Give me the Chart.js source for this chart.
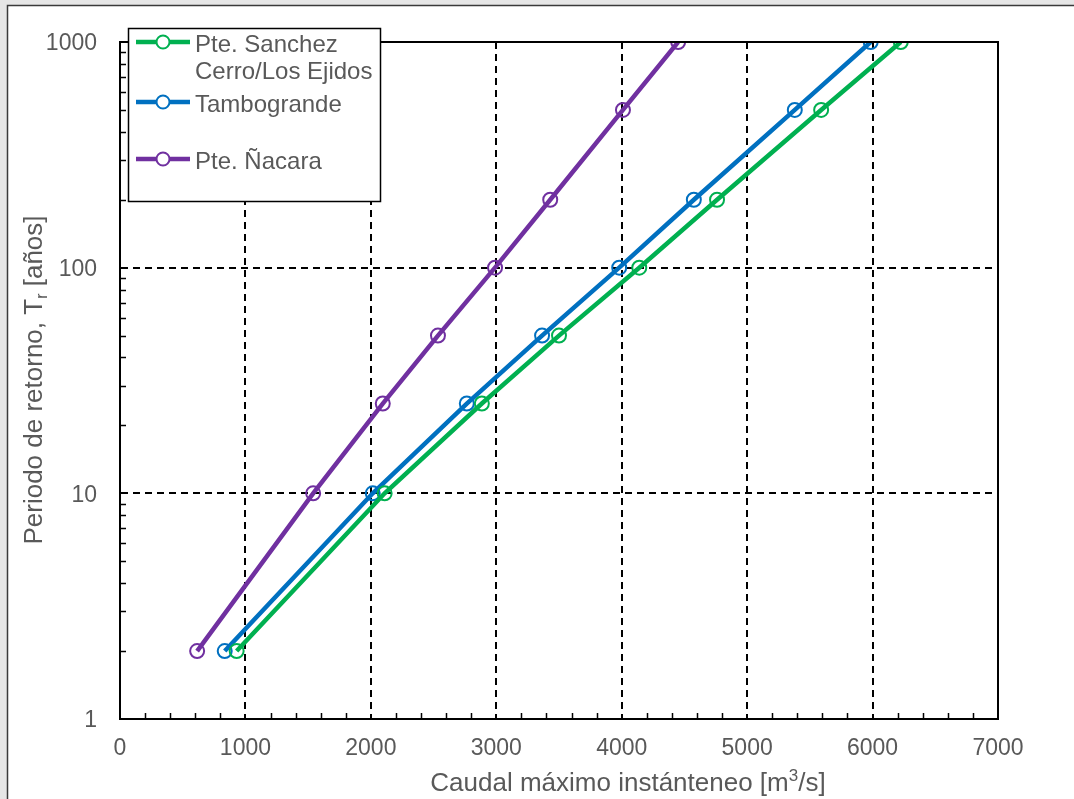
<!DOCTYPE html>
<html>
<head>
<meta charset="utf-8">
<script src="https://cdn.jsdelivr.net/npm/chart.js@4.4.1/dist/chart.umd.min.js"></script>
<style>
    html, body { margin: 0; padding: 0; background: #ffffff; }
    #wrap { width: 1074px; height: 799px; position: relative; }
</style>
</head>
<body>
<div id="wrap"><canvas id="floodChart" width="1074" height="799"></canvas></div>
<script>
// return periods (years) and peak discharge (m3/s)
const returnPeriods = [2, 10, 25, 50, 100, 200, 500, 1000];
const sanchezCerro = [930, 2110, 2885, 3500, 4140, 4760, 5590, 6225];
const tambogrande = [835, 2015, 2765, 3365, 3980, 4575, 5380, 5985];
const nacara = [615, 1540, 2095, 2535, 2990, 3430, 4010, 4450];

const xTicks = [0, 1000, 2000, 3000, 4000, 5000, 6000, 7000];
const yTicks = [1, 10, 100, 1000];

const seriesNames = [['Pte. Sanchez', 'Cerro/Los Ejidos'], ['Tambogrande'], ['Pte. Ñacara']];
const seriesColors = ['#00b050', '#0070c0', '#7030a0'];

const FONT = '"Liberation Sans", Arial, sans-serif';
const GREY_TEXT = '#595959';

function toPoints(values) {
    return values.map((q, i) => ({ x: q, y: returnPeriods[i] }));
}

const allSeries = [sanchezCerro, tambogrande, nacara];

const datasets = allSeries.map((vals, i) => ({
    label: seriesNames[i].join(' '),
    data: toPoints(vals),
    borderColor: seriesColors[i],
    borderWidth: 4.5,
    pointRadius: 7,
    pointHoverRadius: 7,
    pointBorderWidth: 2,
    pointBorderColor: seriesColors[i],
    pointBackgroundColor: 'rgba(0,0,0,0)',
    tension: 0
}));

// frame, box, minor ticks, legend and axis titles
const extras = {
    id: 'extras',
    beforeDraw(chart) {
        const ctx = chart.ctx;
        ctx.save();
        ctx.fillStyle = '#e6e6e6';
        ctx.fillRect(0, 0, 1074, 5);
        ctx.fillRect(0, 0, 7, 799);
        ctx.strokeStyle = '#3a3a3a';
        ctx.lineWidth = 1.5;
        ctx.beginPath();
        ctx.moveTo(7.5, 799);
        ctx.lineTo(7.5, 5.5);
        ctx.lineTo(1074, 5.5);
        ctx.stroke();
        ctx.restore();
    },
    afterDraw(chart) {
        const ctx = chart.ctx;
        const area = chart.chartArea;
        const xs = chart.scales.x;
        const ys = chart.scales.y;
        ctx.save();

        // plot box
        ctx.strokeStyle = '#000';
        ctx.lineWidth = 2;
        ctx.setLineDash([]);
        ctx.strokeRect(area.left, area.top, area.right - area.left, area.bottom - area.top);

        // minor ticks, pointing inward
        ctx.lineWidth = 1.5;
        ctx.beginPath();
        for (let v = 200; v < 7000; v += 200) {
            if (v % 1000 === 0) continue;
            const px = Math.round(xs.getPixelForValue(v)) + 0.5;
            ctx.moveTo(px, area.bottom);
            ctx.lineTo(px, area.bottom - 6);
        }
        for (let d = 1; d < 1000; d *= 10) {
            for (let k = 2; k <= 9; k++) {
                const py = Math.round(ys.getPixelForValue(k * d)) + 0.5;
                ctx.moveTo(area.left, py);
                ctx.lineTo(area.left + 6, py);
            }
        }
        ctx.stroke();

        // legend box
        const bx = 128, by = 28, bw = 252, bh = 173;
        ctx.fillStyle = '#ffffff';
        ctx.fillRect(bx, by, bw, bh);
        ctx.strokeStyle = '#000';
        ctx.lineWidth = 1.5;
        ctx.strokeRect(bx + 0.5, by + 0.5, bw, bh);

        const rowY = [42, 102, 159];
        ctx.font = '24px ' + FONT;
        ctx.textBaseline = 'middle';
        ctx.textAlign = 'left';
        seriesNames.forEach((lines, i) => {
            const y = rowY[i];
            ctx.strokeStyle = seriesColors[i];
            ctx.lineWidth = 4.5;
            ctx.beginPath();
            ctx.moveTo(136, y);
            ctx.lineTo(190, y);
            ctx.stroke();
            ctx.lineWidth = 2;
            ctx.beginPath();
            ctx.fillStyle = '#ffffff';
            ctx.arc(163, y, 6.5, 0, Math.PI * 2);
            ctx.fill();
            ctx.stroke();
            ctx.fillStyle = GREY_TEXT;
            lines.forEach((t, j) => ctx.fillText(t, 195, y + 3 + j * 27));
        });

        // x axis title with superscript
        ctx.fillStyle = GREY_TEXT;
        ctx.textBaseline = 'alphabetic';
        const xa = 'Caudal máximo instánteneo [m', xb = '3', xc = '/s]';
        ctx.font = '26px ' + FONT;
        const wa = ctx.measureText(xa).width;
        const wc = ctx.measureText(xc).width;
        ctx.font = '17px ' + FONT;
        const wb = ctx.measureText(xb).width;
        let tx = 628 - (wa + wb + wc) / 2;
        const ty = 791;
        ctx.font = '26px ' + FONT;
        ctx.fillText(xa, tx, ty);
        ctx.font = '17px ' + FONT;
        ctx.fillText(xb, tx + wa, ty - 10);
        ctx.font = '26px ' + FONT;
        ctx.fillText(xc, tx + wa + wb, ty);

        // y axis title with subscript
        ctx.translate(42, 380);
        ctx.rotate(-Math.PI / 2);
        const ya = 'Periodo de retorno, T', yb = 'r', yc = ' [años]';
        ctx.font = '26px ' + FONT;
        const va = ctx.measureText(ya).width;
        const vc = ctx.measureText(yc).width;
        ctx.font = '16px ' + FONT;
        const vb = ctx.measureText(yb).width;
        let sx = -(va + vb + vc) / 2;
        ctx.font = '26px ' + FONT;
        ctx.fillText(ya, sx, 0);
        ctx.font = '16px ' + FONT;
        ctx.fillText(yb, sx + va, 5);
        ctx.font = '26px ' + FONT;
        ctx.fillText(yc, sx + va + vb, 0);

        ctx.restore();
    }
};

const chart = new Chart(document.getElementById('floodChart'), {
    type: 'line',
    data: { datasets: datasets },
    options: {
        responsive: false,
        animation: false,
        events: [],
        layout: { padding: { top: 42, right: 76, left: 0, bottom: 0 } },
        plugins: {
            legend: { display: false },
            tooltip: { enabled: false }
        },
        scales: {
            x: {
                type: 'linear',
                min: 0,
                max: 7000,
                afterBuildTicks: (scale) => { scale.ticks = xTicks.map(v => ({ value: v })); },
                afterFit: (scale) => { scale.height = 80; },
                ticks: {
                    color: GREY_TEXT,
                    font: { family: FONT, size: 23 },
                    padding: 16,
                    maxRotation: 0,
                    callback: (v) => String(v)
                },
                grid: {
                    drawTicks: false,
                    color: (c) => (c.tick && (c.tick.value === 0 || c.tick.value === 7000)) ? 'rgba(0,0,0,0)' : '#000',
                    lineWidth: 2
                },
                border: { display: true, color: '#000', width: 2, dash: [7, 5] }
            },
            y: {
                type: 'logarithmic',
                min: 1,
                max: 1000,
                afterBuildTicks: (scale) => { scale.ticks = yTicks.map(v => ({ value: v })); },
                afterFit: (scale) => { scale.width = 120; },
                ticks: {
                    color: GREY_TEXT,
                    font: { family: FONT, size: 23 },
                    padding: 23,
                    labelOffset: 2,
                    callback: (v) => String(v)
                },
                grid: {
                    drawTicks: false,
                    color: (c) => (c.tick && (c.tick.value === 1 || c.tick.value === 1000)) ? 'rgba(0,0,0,0)' : '#000',
                    lineWidth: 2
                },
                border: { display: true, color: '#000', width: 2, dash: [7, 5] }
            }
        }
    },
    plugins: [extras]
});
</script>
</body>
</html>
